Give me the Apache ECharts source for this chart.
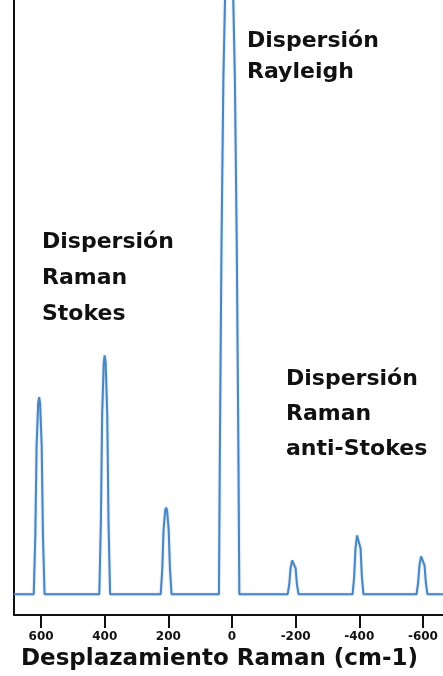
<!DOCTYPE html>
<html>
<head>
<meta charset="utf-8">
<script src="https://cdn.jsdelivr.net/npm/echarts@6/dist/echarts.min.js"></script>
<style>
html,body{margin:0;padding:0;background:#fff;}
#chart{width:443px;height:676px;}
</style>
</head>
<body>
<div id="chart"></div>
<script>
// Raman shift (cm-1) sampled along the traced spectrum, left to right
var shiftValues = [
  685, 623, 618, 614, 609, 606, 603, 598, 594, 589,
  417, 412, 408, 403, 400, 397, 392, 388, 383,
  224, 219, 215, 210, 207, 204, 199, 195, 190,
  41, 38, 33, 27, 22, 16, 9, 2, -4, -9, -15, -20, -23,
  -175, -180, -184, -189, -192, -195, -200, -204, -209,
  -379, -384, -388, -393, -396, -399, -404, -408, -413,
  -580, -585, -589, -594, -597, -600, -605, -609, -614, -663
];
// Intensity (arbitrary units)
var intensityValues = [
  0, 0, 59, 149, 192, 198, 192, 149, 59, 0,
  0, 72, 180, 233, 240, 233, 180, 72, 0,
  0, 26, 65, 84, 87, 84, 65, 26, 0,
  0, 150, 350, 520, 597, 750, 850, 750, 597, 520, 350, 150, 0,
  0, 10, 26, 34, 35, 34, 26, 10, 0,
  0, 18, 46, 59, 61, 59, 46, 18, 0,
  0, 12, 29, 38, 39, 38, 29, 12, 0, 0
];
var tickValues = [600, 400, 200, 0, -200, -400, -600];
var axisTitle = 'Desplazamiento Raman (cm-1)';
var labelRayleigh = ['Dispersión', 'Rayleigh'];
var labelStokes = ['Dispersión', 'Raman', 'Stokes'];
var labelAntiStokes = ['Dispersión', 'Raman', 'anti-Stokes'];

var seriesData = shiftValues.map(function (x, i) { return [x, intensityValues[i]]; });

var FONT = '"DejaVu Sans", sans-serif';
function block(lines, left, top, lh) {
  return {
    type: 'text', left: left, top: top, z: 10,
    style: { text: lines.join('\n'), font: 'bold 22px ' + FONT, fill: '#111', lineHeight: lh }
  };
}

var chart = echarts.init(document.getElementById('chart'));
chart.setOption({
  animation: false,
  backgroundColor: '#fff',
  grid: { left: 14, right: 0, top: 0, bottom: 58, containLabel: false },
  xAxis: {
    type: 'value', inverse: true, min: -663, max: 685,
    axisLine: { show: true, onZero: false, lineStyle: { color: '#111', width: 2 } },
    axisTick: { show: true, customValues: tickValues, length: 13, lineStyle: { color: '#111', width: 2 } },
    axisLabel: { show: true, customValues: tickValues, margin: 16, color: '#111', fontFamily: FONT, fontWeight: 'bold', fontSize: 12 },
    splitLine: { show: false },
    name: axisTitle, nameLocation: 'middle', nameGap: 29,
    nameTextStyle: { color: '#111', fontFamily: FONT, fontWeight: 'bold', fontSize: 23, padding: [0, 18, 0, 0] }
  },
  yAxis: {
    type: 'value', min: -21, max: 597, position: 'left',
    axisLine: { show: true, onZero: false, lineStyle: { color: '#111', width: 2 } },
    axisTick: { show: false }, axisLabel: { show: false }, splitLine: { show: false }
  },
  series: [{
    type: 'line', data: seriesData, showSymbol: false, smooth: false, clip: true,
    lineStyle: { color: '#4a86c1', width: 2, shadowColor: 'rgba(120,165,215,0.6)', shadowBlur: 2 }
  }],
  graphic: [
    block(labelRayleigh, 247, 26, 31),
    block(labelStokes, 42, 224, 36),
    block(labelAntiStokes, 286, 362, 35)
  ]
});
</script>
</body>
</html>
